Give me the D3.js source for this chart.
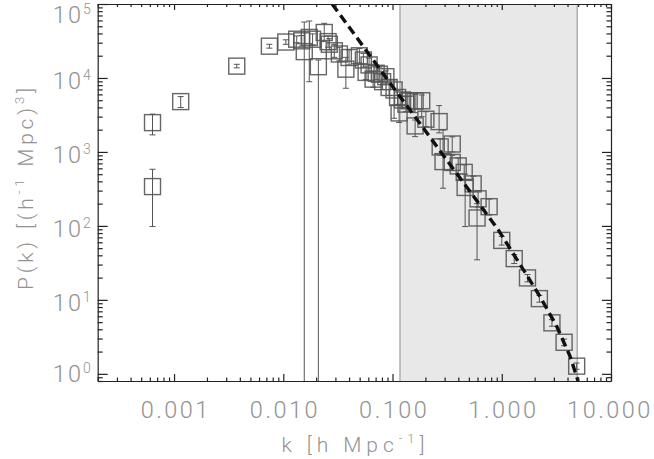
<!DOCTYPE html>
<html><head><meta charset="utf-8">
<script src="https://cdn.jsdelivr.net/npm/d3@7"></script>
<style>
html,body{margin:0;padding:0;background:#fff;}
svg{display:block;}
</style></head><body>
<svg id="c" width="654" height="459"></svg>
<script>
// ---- data ----
const kVals = [6.35e-4, 6.35e-4, 1.15e-3, 3.75e-3, 7.46e-3, 0.01055, 0.01327, 0.01476, 0.01556, 0.0173,
  0.01854, 0.02094, 0.0237, 0.0257, 0.0264, 0.0293, 0.0326, 0.0374, 0.040, 0.0497,
  0.0541, 0.0573, 0.0610, 0.0664, 0.0708, 0.0757, 0.0811, 0.0869, 0.0931, 0.1033,
  0.1112, 0.1148, 0.1236, 0.1327, 0.142, 0.161, 0.161, 0.185, 0.202, 0.267,
  0.273, 0.290, 0.352, 0.352, 0.399, 0.453, 0.462, 0.547, 0.607, 0.594,
  0.766, 1.00, 1.30, 1.72, 2.21, 2.88, 3.72, 4.85];
const pVals = [2490, 340, 4790, 14450, 26900, 30600, 33400, 31800, 22700, 35300,
  33400, 14200, 41200, 31000, 28600, 23300, 21100, 13150, 18900, 19950,
  17500, 11900, 15000, 9640, 11580, 11250, 8910, 10400, 7440, 6880,
  5450, 3370, 5040, 4430, 4920, 4890, 2250, 4920, 2770, 2570,
  1170, 740, 1280, 721, 647, 529, 331, 370, 232, 128,
  182, 63.7, 36.1, 19.8, 10.4, 4.89, 2.67, 1.27];
const pLo = [1700, 98, 3980, 13700, 25300, 28500, 30000, 27000, 0.05, 8900,
  28000, 0.05, 31000, 26000, 24000, 19000, 17000, 7260, 15000, 16000,
  14000, 9500, 12000, 7500, 9500, 9000, 7000, 8500, 5800, 2850,
  4300, 2500, 4000, 3500, 3900, 3400, 1610, 3000, 2200, 1810,
  900, 323, 1000, 560, 500, 420, 98, 290, 180, 34.8,
  140, 55, 31, 17.5, 9.3, 4.4, 2.4, 1.15];
const pHi = [3240, 583, 5600, 15300, 28500, 32800, 37000, 37500, 57100, 58900,
  39500, 17500, 54800, 37000, 34000, 28500, 26000, 19000, 24000, 25000,
  21500, 14500, 18500, 12300, 14000, 14000, 11000, 12500, 9400, 9400,
  6800, 4400, 6300, 5600, 6200, 6000, 2700, 5890, 3500, 4230,
  1500, 1980, 1600, 900, 830, 670, 500, 470, 300, 200,
  230, 72, 41, 22, 11.5, 5.4, 2.95, 1.4];
// dashed model curve
const modelK = [0.028, 0.101, 0.93, 1.58, 2.24, 3.19, 4.23, 5.0];
const modelP = [1e5, 7550, 88.3, 25.4, 11.1, 4.36, 1.71, 0.80];
// shaded k range
const shadeK = [0.117, 4.9];
// ticks
const xTickVals = [0.001, 0.01, 0.1, 1, 10];
const xTickLabels = ["0.001", "0.010", "0.100", "1.000", "10.000"];
const yTickVals = [1, 10, 100, 1000, 10000, 100000];
const yTickExps = ["0", "1", "2", "3", "4", "5"];

// ---- layout ----
const L = 97.7, R = 611, T = 4, B = 381;
const x = d3.scaleLog().domain([2e-4, 10]).range([L, R]);
const y = d3.scaleLog().domain([0.8, 1e5]).range([B, T]);
const svg = d3.select("#c");
const FONT = "Roboto, 'DejaVu Sans', sans-serif";
const LABEL = "#929292";

// shaded band
svg.append("rect").attr("x", x(shadeK[0])).attr("y", T)
  .attr("width", x(shadeK[1]) - x(shadeK[0])).attr("height", B - T)
  .attr("fill", "#e8e8e8");
svg.selectAll("line.edge").data(shadeK).join("line").attr("class", "edge")
  .attr("x1", d => x(d)).attr("x2", d => x(d)).attr("y1", T).attr("y2", B)
  .attr("stroke", "#8a8a8a").attr("stroke-width", 1);

svg.append("clipPath").attr("id", "clip").append("rect")
  .attr("x", L).attr("y", T).attr("width", R - L).attr("height", B - T);
const g = svg.append("g").attr("clip-path", "url(#clip)");

const pts = kVals.map((k, i) => ({k, p: pVals[i], lo: pLo[i], hi: pHi[i]}));

// error bars
const eb = g.append("g").attr("stroke", "#555").attr("stroke-width", 1).attr("fill", "none");
eb.selectAll("line.v").data(pts).join("line").attr("class", "v")
  .attr("x1", d => x(d.k)).attr("x2", d => x(d.k))
  .attr("y1", d => y(d.hi)).attr("y2", d => y(d.lo));
eb.selectAll("line.ch").data(pts).join("line").attr("class", "ch")
  .attr("x1", d => x(d.k) - 3).attr("x2", d => x(d.k) + 3)
  .attr("y1", d => y(d.hi)).attr("y2", d => y(d.hi));
eb.selectAll("line.cl").data(pts).join("line").attr("class", "cl")
  .attr("x1", d => x(d.k) - 3).attr("x2", d => x(d.k) + 3)
  .attr("y1", d => y(d.lo)).attr("y2", d => y(d.lo));

// squares
g.append("g").selectAll("rect").data(pts).join("rect")
  .attr("x", d => x(d.k) - 8).attr("y", d => y(d.p) - 8)
  .attr("width", 16).attr("height", 16)
  .attr("fill", "none").attr("stroke", "#555").attr("stroke-width", 1.4)
  .attr("stroke-opacity", 0.9);

// dashed model
g.append("path").datum(modelK.map((k, i) => [k, modelP[i]]))
  .attr("d", d3.line().x(d => x(d[0])).y(d => y(d[1])))
  .attr("fill", "none").attr("stroke", "#111").attr("stroke-width", 3.4)
  .attr("stroke-dasharray", "9,5");

// ---- axes ----
const xMinor = [], yMinor = [];
for (let e = -4; e <= 1; e++) for (let m = 2; m <= 9; m++) {
  const v = m * Math.pow(10, e);
  if (v >= 2e-4 && v <= 10) xMinor.push(v);
}
for (let e = -1; e <= 4; e++) for (let m = 2; m <= 9; m++) {
  const v = m * Math.pow(10, e);
  if (v >= 0.8 && v <= 1e5) yMinor.push(v);
}
function styleAxis(sel) {
  sel.selectAll("path,line").attr("stroke", "#222").attr("stroke-width", 1.2);
  sel.attr("font-family", FONT).attr("font-size", null);
}
// bottom
const gb = svg.append("g").attr("transform", `translate(0,${B})`)
  .call(d3.axisBottom(x).tickValues(xTickVals).tickSize(-7).tickSizeOuter(0)
    .tickFormat((d, i) => xTickLabels[i]));
gb.selectAll("text").attr("y", 37).attr("dy", null)
  .attr("dx", d => d === 10 ? -1.5 : 1.2)
  .attr("fill", LABEL).attr("font-size", 23.5).attr("font-weight", 300)
  .attr("letter-spacing", 2.5);
styleAxis(gb);
const gbm = svg.append("g").attr("transform", `translate(0,${B})`)
  .call(d3.axisBottom(x).tickValues(xMinor).tickSize(-3.5).tickSizeOuter(0).tickFormat(""));
gbm.select(".domain").remove(); styleAxis(gbm);
// top
const gt = svg.append("g").attr("transform", `translate(0,${T})`)
  .call(d3.axisTop(x).tickValues(xTickVals).tickSize(-6).tickSizeOuter(0).tickFormat(""));
styleAxis(gt);
const gtm = svg.append("g").attr("transform", `translate(0,${T})`)
  .call(d3.axisTop(x).tickValues(xMinor).tickSize(-3).tickSizeOuter(0).tickFormat(""));
gtm.select(".domain").remove(); styleAxis(gtm);
// left
const gl = svg.append("g").attr("transform", `translate(${L},0)`)
  .call(d3.axisLeft(y).tickValues(yTickVals).tickSize(-10).tickSizeOuter(0).tickPadding(7)
    .tickFormat(""));
styleAxis(gl);
gl.selectAll("text").each(function(d, i) {
  const t = d3.select(this).attr("dy", null)
    .attr("y", d === 1e5 ? 18 : (d === 1 ? 8 : 10.5))
    .attr("fill", LABEL).attr("font-weight", 300).attr("text-anchor", "end");
  t.append("tspan").attr("font-size", 23.5).attr("letter-spacing", 2).text("10");
  t.append("tspan").attr("font-size", 14).attr("dy", -9).text(yTickExps[i]);
});
const glm = svg.append("g").attr("transform", `translate(${L},0)`)
  .call(d3.axisLeft(y).tickValues(yMinor).tickSize(-5).tickSizeOuter(0).tickFormat(""));
glm.select(".domain").remove(); styleAxis(glm);
// right
const gr = svg.append("g").attr("transform", `translate(${R},0)`)
  .call(d3.axisRight(y).tickValues(yTickVals).tickSize(-9).tickSizeOuter(0).tickFormat(""));
styleAxis(gr);
const grm = svg.append("g").attr("transform", `translate(${R},0)`)
  .call(d3.axisRight(y).tickValues(yMinor).tickSize(-4.5).tickSizeOuter(0).tickFormat(""));
grm.select(".domain").remove(); styleAxis(grm);

// ---- titles ----
const xt = svg.append("text").attr("x", 353).attr("y", 451.7).attr("text-anchor", "middle")
  .attr("font-family", FONT).attr("font-weight", 300).attr("font-size", 21)
  .attr("fill", LABEL).attr("textLength", 143).attr("lengthAdjust", "spacing");
xt.append("tspan").text("k [h Mpc");
xt.append("tspan").attr("font-size", 13).attr("dy", -9).text("-1");
xt.append("tspan").attr("dy", 9).text("]");

const yt = svg.append("text").attr("transform", "translate(33,189) rotate(-90)")
  .attr("text-anchor", "middle")
  .attr("font-family", FONT).attr("font-weight", 300).attr("font-size", 21)
  .attr("fill", LABEL).attr("textLength", 202).attr("lengthAdjust", "spacing");
yt.append("tspan").text("P(k) [(h");
yt.append("tspan").attr("font-size", 13).attr("dy", -9).text("-1");
yt.append("tspan").attr("dy", 9).text(" Mpc)");
yt.append("tspan").attr("font-size", 13).attr("dy", -9).text("3");
yt.append("tspan").attr("dy", 9).text("]");
</script>
</body></html>
